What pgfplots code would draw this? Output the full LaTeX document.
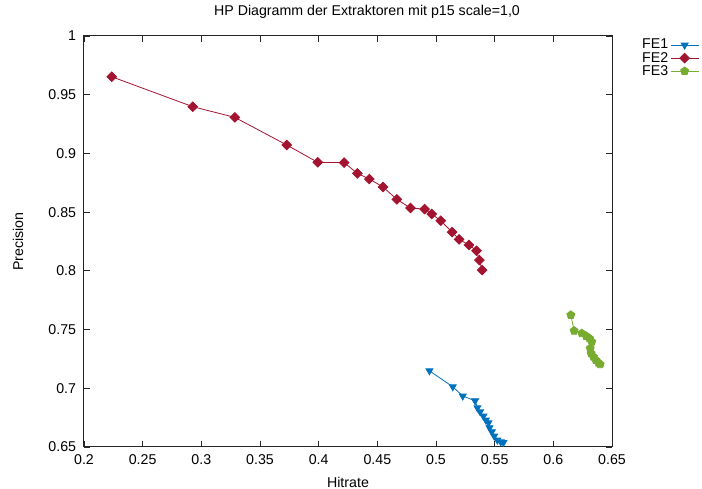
\documentclass[border=0pt]{standalone}
\usepackage{pgfplots}
\pgfplotsset{compat=1.18}
\usepackage{fontspec}
\setmainfont{Liberation Sans}
\definecolor{feA}{HTML}{0072BD}
\definecolor{feB}{HTML}{A2142F}
\definecolor{feC}{HTML}{77AC30}
\begin{document}
\fontsize{14.2}{16}\selectfont
\begin{tikzpicture}[x=1pt,y=1pt]
\useasboundingbox (0,0) rectangle (702,489);
\begin{axis}[
  at={(84pt,42pt)}, anchor=south west,
  scale only axis, width=528pt, height=411pt,
  xmin=0.2, xmax=0.65, ymin=0.65, ymax=1,
  xtick={0.2,0.25,...,0.66}, ytick={0.65,0.7,...,1.01},
  /pgf/number format/assume math mode=true,
  /pgf/number format/fixed, /pgf/number format/precision=2,
  scaled ticks=false,
  tick align=inside, major tick length=6pt,
  axis line style={line width=1pt, black!85},
  every tick/.style={black!85, line width=0.8pt},
  xticklabel style={yshift=-3pt},
  yticklabel style={xshift=-3pt},
  title={HP Diagramm der Extraktoren mit p15 scale=1,0},
  title style={at={(axis description cs:0.536,1)}, anchor=center, yshift=18pt},
  xlabel={Hitrate},
  xlabel style={at={(axis description cs:0.5,0)}, anchor=center, yshift=-35pt, inner sep=0pt},
  ylabel={Precision},
  ylabel style={at={(axis description cs:0,0.5)}, anchor=center, yshift=66pt},
  clip=false,
  legend plot pos=right,
  legend cell align=right,
  legend style={at={(rel axis cs:1,1)}, anchor=north west, xshift=28pt, yshift=-1pt,
    draw=none, fill=none, inner sep=0pt, row sep=-3pt,
    /tikz/every even column/.style={column sep=5pt}},
  legend image code/.code={\draw[mark repeat=2,mark phase=2] plot coordinates {(0pt,0pt)(14pt,0pt)(28pt,0pt)};},
]
\addplot[color=feA, line width=0.8pt, mark=triangle*, mark size=4pt, mark options={rotate=180, solid}] coordinates {
(0.4944,0.7149) (0.5143,0.7013) (0.5228,0.6934) (0.5333,0.6894) (0.5353,0.6834)
(0.5376,0.6800) (0.5404,0.6763) (0.5425,0.6729) (0.5447,0.6706) (0.5456,0.6664)
(0.5476,0.6630) (0.5496,0.6593) (0.5523,0.6559) (0.5552,0.6544) (0.5575,0.6539)
};
\addlegendentry{FE1}
\addplot[color=feB, line width=0.8pt, mark=square*, mark size=3.4pt, mark options={rotate=45, solid}] coordinates {
(0.2236,0.9653) (0.2927,0.9398) (0.3285,0.9307) (0.3728,0.9072) (0.3992,0.8924)
(0.4217,0.8922) (0.4330,0.8830) (0.4432,0.8782) (0.4549,0.8714) (0.4666,0.8609)
(0.4782,0.8535) (0.4903,0.8526) (0.4964,0.8484) (0.5041,0.8427) (0.5137,0.8330)
(0.5197,0.8268) (0.5282,0.8220) (0.5345,0.8171) (0.5370,0.8092) (0.5393,0.8007)
};
\addlegendentry{FE2}
\addplot[color=feC, line width=0.8pt, mark=pentagon*, mark size=4.2pt] coordinates {
(0.6149,0.7624) (0.6177,0.7490) (0.6243,0.7468) (0.6280,0.7445) (0.6308,0.7425)
(0.6328,0.7396) (0.6314,0.7340) (0.6322,0.7297) (0.6342,0.7268) (0.6362,0.7240)
(0.6385,0.7217) (0.6399,0.7204)
};
\addlegendentry{FE3}
\end{axis}
\end{tikzpicture}
\end{document}
